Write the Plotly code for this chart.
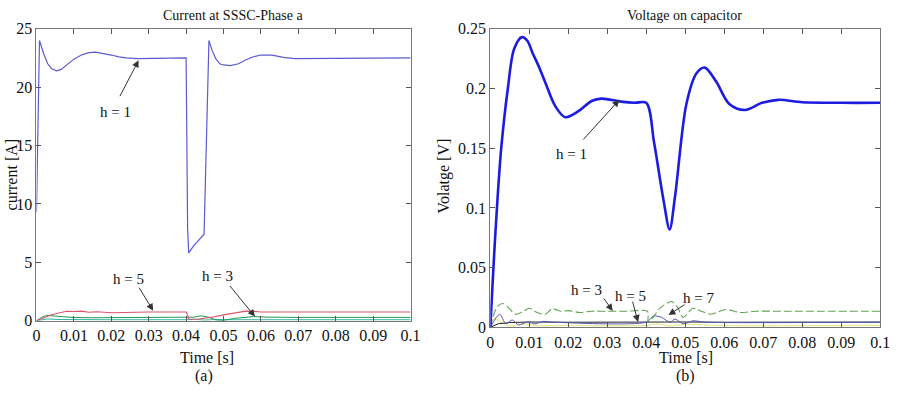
import plotly.graph_objects as go

# ---------------- data: (a) current at SSSC phase a ----------------
t_i1 = [0, 0.0008, 0.002, 0.003, 0.004, 0.0053, 0.0065, 0.008, 0.010, 0.012, 0.014, 0.0158,
        0.018, 0.020, 0.022, 0.024, 0.027, 0.030, 0.035, 0.0400, 0.0404, 0.0407, 0.042,
        0.0435, 0.0448, 0.0461, 0.047, 0.048, 0.049, 0.050, 0.0518, 0.054, 0.056, 0.058,
        0.060, 0.063, 0.066, 0.069, 0.075, 0.08, 0.1]
i_h1 = [9.3, 24.0, 22.8, 22.0, 21.6, 21.4, 21.5, 21.9, 22.4, 22.75, 22.95, 23.0,
        22.9, 22.75, 22.6, 22.5, 22.45, 22.45, 22.5, 22.5, 7.9, 5.8, 6.4,
        6.9, 7.4, 24.0, 23.1, 22.4, 22.0, 21.9, 21.85, 22.0, 22.35, 22.6,
        22.75, 22.75, 22.55, 22.45, 22.45, 22.5, 22.5]

t_i5 = [0, 0.002, 0.004, 0.006, 0.008, 0.010, 0.012, 0.014, 0.016, 0.020, 0.025, 0.030,
        0.0400, 0.0408, 0.043, 0.045, 0.047, 0.050, 0.053, 0.056, 0.058, 0.060, 0.070, 0.1]
i_h5 = [0, 0.25, 0.5, 0.65, 0.8, 0.78, 0.82, 0.72, 0.76, 0.68, 0.74, 0.74,
        0.74, 0.15, 0.12, 0.2, 0.3, 0.5, 0.65, 0.82, 0.8, 0.74, 0.74, 0.74]

t_i3 = [0, 0.0015, 0.0027, 0.004, 0.006, 0.008, 0.010, 0.015, 0.020, 0.030, 0.040, 0.042,
        0.044, 0.046, 0.048, 0.050, 0.053, 0.056, 0.058, 0.062, 0.070, 0.1]
i_h3 = [0, 0.3, 0.45, 0.42, 0.35, 0.3, 0.27, 0.25, 0.26, 0.25, 0.25, 0.3,
        0.42, 0.3, 0.05, 0.02, 0.2, 0.32, 0.35, 0.3, 0.28, 0.28]

t_i7 = [0, 0.003, 0.006, 0.010, 0.020, 0.040, 0.042, 0.045, 0.048, 0.052, 0.060, 0.1]
i_h7 = [0, 0.15, 0.1, 0.08, 0.08, 0.08, 0.12, 0.05, 0.1, 0.08, 0.08, 0.08]

# ---------------- data: (b) voltage on capacitor ----------------
t_v1 = [0, 0.0008, 0.0017, 0.0028, 0.0045, 0.0061, 0.0081, 0.0095,
        0.0108, 0.0125, 0.0141, 0.0167, 0.0192, 0.0226, 0.026, 0.0285, 0.0335, 0.0370,
        0.0400, 0.0420, 0.0444, 0.0460, 0.0474, 0.0503, 0.0529, 0.0550, 0.0579, 0.0613,
        0.0653, 0.0697, 0.0739, 0.080, 0.090, 0.1]
v_h1 = [0, 0.05, 0.10, 0.15, 0.20, 0.233, 0.243, 0.240,
        0.230, 0.218, 0.205, 0.185, 0.176, 0.181, 0.1895, 0.1915, 0.189, 0.188,
        0.188, 0.155, 0.107, 0.082, 0.11, 0.187, 0.2127, 0.2175, 0.206, 0.187,
        0.182, 0.188, 0.1905, 0.1885, 0.188, 0.188]

t_v3 = [0, 0.001, 0.002, 0.0032, 0.0045, 0.0065, 0.0085, 0.0100, 0.0120, 0.0140, 0.0160,
        0.0180, 0.0200, 0.0230, 0.0260, 0.030, 0.035, 0.0403, 0.0405, 0.0412, 0.0436,
        0.0465, 0.0480, 0.0495, 0.0520, 0.0545, 0.0566, 0.0604, 0.0640, 0.068, 0.075, 0.1]
v_h3 = [0, 0.012, 0.018, 0.020, 0.017, 0.011, 0.0135, 0.016, 0.0125, 0.011, 0.0155,
        0.0135, 0.014, 0.0125, 0.0135, 0.0135, 0.0135, 0.0135, 0.0045, 0.006, 0.0163,
        0.0216, 0.017, 0.0083, 0.016, 0.013, 0.011, 0.015, 0.0125, 0.0135, 0.0135, 0.0135]

t_v5 = [0, 0.002, 0.005, 0.010, 0.020, 0.030, 0.040, 0.050, 0.060, 0.070, 0.080, 0.1]
v_h5 = [0.0, 0.003, 0.004, 0.0045, 0.0043, 0.0045, 0.0043, 0.0045, 0.0043, 0.0045, 0.0044, 0.0044]

t_v7 = [0, 0.0024, 0.0040, 0.0056, 0.0073, 0.0095, 0.0115, 0.0135, 0.016, 0.040,
        0.0419, 0.0440, 0.0461, 0.0474, 0.0495, 0.0520, 0.0550, 0.1]
v_h7 = [0, 0.011, 0.003, 0.0062, 0.002, 0.0045, 0.003, 0.005, 0.0044, 0.0044,
        0.0096, 0.0083, 0.0043, 0.007, 0.003, 0.0055, 0.0044, 0.0044]

t_vy = [0, 0.001, 0.003, 0.005, 0.008, 0.012, 0.020, 0.040, 0.043, 0.046, 0.050, 0.060, 0.1]
v_hy = [0.004, 0.007, 0.004, 0.001, 0.003, 0.0015, 0.0016, 0.0016, 0.003, 0.0012, 0.0025, 0.0016, 0.0016]

x_ticks = [0, 0.01, 0.02, 0.03, 0.04, 0.05, 0.06, 0.07, 0.08, 0.09, 0.1]
x_ticktext = ["0", "0.01", "0.02", "0.03", "0.04", "0.05", "0.06", "0.07", "0.08", "0.09", "0.1"]
y1_ticks = [0, 5, 10, 15, 20, 25]
y2_ticks = [0, 0.05, 0.1, 0.15, 0.2, 0.25]
y2_ticktext = ["0", "0.05", "0.1", "0.15", "0.2", "0.25"]

FONT = "Liberation Serif, Times New Roman, serif"

fig = go.Figure()

# left panel traces
fig.add_trace(go.Scatter(x=t_i7, y=i_h7, mode="lines", line=dict(color="#2fb3a3", width=1), xaxis="x", yaxis="y"))
fig.add_trace(go.Scatter(x=t_i3, y=i_h3, mode="lines", line=dict(color="#1f9a4f", width=1), xaxis="x", yaxis="y"))
fig.add_trace(go.Scatter(x=t_i5, y=i_h5, mode="lines", line=dict(color="#d9566a", width=1.1), xaxis="x", yaxis="y"))
fig.add_trace(go.Scatter(x=t_i1, y=i_h1, mode="lines", line=dict(color="#5a5ad2", width=1.2), xaxis="x", yaxis="y"))

# right panel traces
fig.add_trace(go.Scatter(x=t_vy, y=v_hy, mode="lines", line=dict(color="#e8e890", width=1.2, shape="spline", smoothing=0.8), xaxis="x2", yaxis="y2"))
fig.add_trace(go.Scatter(x=t_v5, y=v_h5, mode="lines", line=dict(color="#222222", width=1), xaxis="x2", yaxis="y2"))
fig.add_trace(go.Scatter(x=t_v7, y=v_h7, mode="lines", line=dict(color="#5555b5", width=1, shape="spline", smoothing=0.8), xaxis="x2", yaxis="y2"))
fig.add_trace(go.Scatter(x=t_v3, y=v_h3, mode="lines", line=dict(color="#5fa450", width=1.1, dash="8px,3px", shape="spline", smoothing=0.8), xaxis="x2", yaxis="y2"))
fig.add_trace(go.Scatter(x=t_v1, y=v_h1, mode="lines", line=dict(color="#1c1ce0", width=2.6, shape="spline", smoothing=0.9), xaxis="x2", yaxis="y2"))

axis_common = dict(showline=True, linecolor="#777777", linewidth=1, mirror="allticks",
                   ticks="inside", ticklen=5, tickcolor="#555555", showgrid=False, zeroline=False,
                   tickfont=dict(family=FONT, size=16, color="#111111"))

fig.update_layout(
    width=899, height=396,
    margin=dict(l=0, r=0, t=0, b=0),
    paper_bgcolor="white", plot_bgcolor="white",
    showlegend=False,
    font=dict(family=FONT, color="#111111"),
    xaxis=dict(domain=[33/899, 413/899], range=[0, 0.1], tickvals=x_ticks, ticktext=x_ticktext, anchor="y", **axis_common),
    yaxis=dict(domain=[1-326.7/396, 1-21.7/396], range=[0, 25], tickvals=y1_ticks, anchor="x", **axis_common),
    xaxis2=dict(domain=[494/899, 890/899], range=[0, 0.1], tickvals=x_ticks, ticktext=x_ticktext, anchor="y2", **axis_common),
    yaxis2=dict(domain=[1-333.7/396, 1-21.7/396], range=[0, 0.25], tickvals=y2_ticks, ticktext=y2_ticktext, anchor="x2", **axis_common),
)

ann = []
def label(text, x, y, size=14, xref="paper", yref="paper", angle=0):
    ann.append(dict(text=text, x=x, y=y, xref=xref, yref=yref, showarrow=False, textangle=angle,
                    xanchor="center", yanchor="middle", font=dict(family=FONT, size=size, color="#111111")))

label("Current at SSSC-Phase a", 233/899, 1-8/396, size=14)
label("Voltage on capacitor", 691/899, 1-8/396, size=14)
label("current [A]", 8/899, 1-174/396, size=16, angle=-90)
label("Volatge [V]", 447/899, 1-176/396, size=16, angle=-90)
label("Time [s]", 206/899, 1-365/396, size=16)
label("Time [s]", 693/899, 1-365/396, size=16)
label("(a)", 203/899, 1-384/396, size=16)
label("(b)", 692/899, 1-384/396, size=16)

def arrow(xr, yr, tail, tip):
    ann.append(dict(text="", x=tip[0], y=tip[1], ax=tail[0], ay=tail[1], xref=xr, yref=yr,
                    axref=xr, ayref=yr, showarrow=True, arrowhead=2, arrowsize=1.4,
                    arrowwidth=1, arrowcolor="#333333"))

# left annotations
label("h = 1", 0.02105, 17.9, size=15, xref="x", yref="y")
arrow("x", "y", (0.0221, 19.1), (0.0273, 22.3))
label("h = 5", 0.0247, 3.6, size=15, xref="x", yref="y")
arrow("x", "y", (0.0272, 2.95), (0.0312, 0.85))
label("h = 3", 0.0484, 3.85, size=15, xref="x", yref="y")
arrow("x", "y", (0.0514, 3.1), (0.0584, 0.35))

# right annotations
label("h = 1", 0.02088, 0.1455, size=15, xref="x2", yref="y2")
arrow("x2", "y2", (0.0235, 0.156), (0.0331, 0.1905))
label("h = 3", 0.02467, 0.0317, size=15, xref="x2", yref="y2")
arrow("x2", "y2", (0.0288, 0.0256), (0.0314, 0.0138))
label("h = 5", 0.03604, 0.0264, size=15, xref="x2", yref="y2")
arrow("x2", "y2", (0.0364, 0.0228), (0.0379, 0.0045))
label("h = 7", 0.05328, 0.025, size=15, xref="x2", yref="y2")
arrow("x2", "y2", (0.0502, 0.0198), (0.0457, 0.0104))

fig.update_layout(annotations=ann)
fig.write_html("out.html")
